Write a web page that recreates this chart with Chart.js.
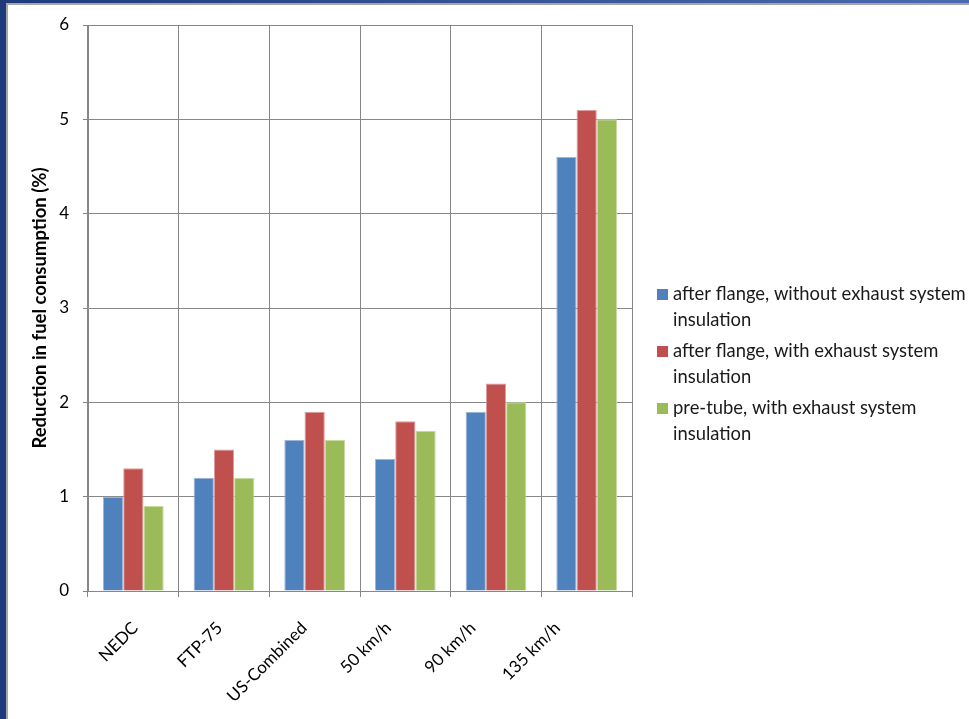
<!DOCTYPE html>
<html>
<head>
<meta charset="utf-8">
<script src="https://cdn.jsdelivr.net/npm/chart.js@4/dist/chart.umd.min.js"></script>
<style>
  html, body { margin: 0; padding: 0; background: #ffffff; }
  #wrap { position: relative; width: 969px; height: 719px; overflow: hidden; background: #ffffff; }
  #chart { position: absolute; left: 0; top: 0; }
  .band-left { position: absolute; left: 0; top: 0; width: 6px; height: 719px; background: #1f3a7a; }
  .line-left { position: absolute; left: 6px; top: 4px; width: 2px; height: 715px; background: #a6a6a6; }
  .band-top { position: absolute; left: 0; top: 0; width: 969px; height: 3px; background: linear-gradient(to right, #1f3a7a, #4a6bb0); }
  .line-top { position: absolute; left: 6px; top: 3px; width: 963px; height: 2px; background: #a6a6a6; }
</style>
</head>
<body>
<div id="wrap">
  <canvas id="chart" width="969" height="719"></canvas>
  <div class="band-left"></div>
  <div class="line-left"></div>
  <div class="band-top"></div>
  <div class="line-top"></div>
</div>
<script>
// Test cycles and constant-speed points
const categories = ['NEDC', 'FTP-75', 'US-Combined', '50 km/h', '90 km/h', '135 km/h'];

// Reduction in fuel consumption (%) per configuration
const afterFlangeNoInsulation = [1.0, 1.2, 1.6, 1.4, 1.9, 4.6];
const afterFlangeInsulation   = [1.3, 1.5, 1.9, 1.8, 2.2, 5.1];
const preTubeInsulation       = [0.9, 1.2, 1.6, 1.7, 2.0, 5.0];

// Legend text, split into the lines it is shown on
const seriesLabels = [
  ['after flange, without exhaust system', 'insulation'],
  ['after flange, with exhaust system', 'insulation'],
  ['pre-tube, with exhaust system', 'insulation']
];

const yMin = 0, yMax = 6, yStep = 1;
const yTitle = 'Reduction in fuel consumption (%)';

const FONT = 'Lato, "Open Sans", sans-serif';
const GRID = '#878787';

// Legend drawn at the right of the plot, two lines per entry
const sideLegend = {
  id: 'sideLegend',
  afterDraw(chart) {
    const ctx = chart.ctx;
    const area = chart.chartArea;
    const x0 = area.right + 25;
    let y = area.top + 269;
    ctx.save();
    ctx.font = '18.4px ' + FONT;
    ctx.textBaseline = 'middle';
    ctx.textAlign = 'left';
    chart.data.datasets.forEach((ds, i) => {
      ctx.fillStyle = ds.backgroundColor;
      ctx.fillRect(x0, y - 5, 11, 11);
      ctx.fillStyle = '#1a1a1a';
      seriesLabels[i].forEach((line, j) => {
        ctx.fillText(line, x0 + 16, y + j * 26);
      });
      y += 57;
    });
    ctx.restore();
  }
};

// The category names sit on their own axis, spread a little tighter
// than the columns and starting just right of the value axis
const labelBand = {
  id: 'labelBand',
  afterLayout(chart) {
    const s = chart.scales.xLabels;
    const area = chart.chartArea;
    s.left = area.left + 5;
    s.right = s.left + area.width * 0.931;
    s.width = s.right - s.left;
    s.configure();
  }
};

new Chart(document.getElementById('chart'), {
  type: 'bar',
  data: {
    labels: categories,
    datasets: [
      { label: seriesLabels[0].join(' '), data: afterFlangeNoInsulation, backgroundColor: '#4f81bd', borderColor: '#9db7da', borderWidth: 1 },
      { label: seriesLabels[1].join(' '), data: afterFlangeInsulation,   backgroundColor: '#c0504d', borderColor: '#dc9e9c', borderWidth: 1 },
      { label: seriesLabels[2].join(' '), data: preTubeInsulation,       backgroundColor: '#9bbb59', borderColor: '#c6dba0', borderWidth: 1 }
    ]
  },
  options: {
    responsive: false,
    animation: false,
    layout: { padding: { left: 20, top: 25, right: 337, bottom: 0 } },
    datasets: { bar: { categoryPercentage: 0.67, barPercentage: 1.0 } },
    plugins: {
      legend: { display: false },
      tooltip: { enabled: false }
    },
    scales: {
      x: {
        weight: 0,
        grid: { color: GRID, lineWidth: 1, offset: true, drawTicks: true, tickLength: 6 },
        border: { color: GRID, width: 1 },
        ticks: { display: false },
        afterFit(scale) { scale.height = 6; }
      },
      xLabels: {
        type: 'category',
        position: 'bottom',
        weight: 1,
        offset: true,
        grid: { display: false },
        border: { display: false },
        ticks: {
          color: '#000000',
          font: { family: FONT, size: 17 },
          minRotation: 45, maxRotation: 45,
          padding: 13,
          autoSkip: false
        },
        afterFit(scale) { scale.height = 719 - 591 - 6; }
      },
      y: {
        min: yMin, max: yMax,
        grid: { color: GRID, lineWidth: 1, drawTicks: true, tickLength: 5 },
        border: { color: GRID, width: 1 },
        ticks: {
          stepSize: yStep,
          color: '#000000',
          font: { family: FONT, size: 17 },
          padding: 14
        },
        title: {
          display: true,
          text: yTitle,
          color: '#000000',
          font: { family: FONT, size: 18.5, weight: 'bold' },
          padding: { top: 9, bottom: 0 }
        },
        afterFit(scale) { scale.width = 68; }
      }
    }
  },
  plugins: [sideLegend, labelBand]
});
</script>
</body>
</html>
